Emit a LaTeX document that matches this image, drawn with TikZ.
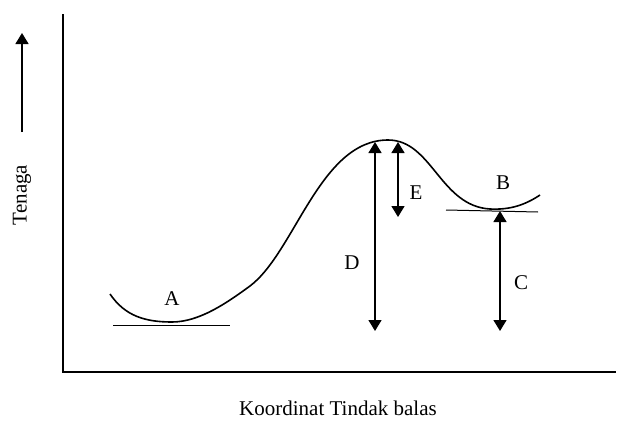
\documentclass[tikz,border=0pt]{standalone}
\usepackage{fontspec}
\setmainfont{Liberation Serif}
\usetikzlibrary{arrows.meta}

\begin{document}
\begin{tikzpicture}[x=1pt, y=-1pt, font=\fontsize{21}{24}\selectfont,
	gap/.style={line width=1.4pt, {Triangle[width=13pt,length=11pt]}-{Triangle[width=13pt,length=11pt]}},
	level/.style={line width=1pt}]
	\useasboundingbox (0,0) rectangle (618,431);
	% Define coordinates
	\coordinate (O) at (63,372);
	\coordinate (Ytop) at (63,14);
	\coordinate (Xend) at (616,372);
	\coordinate (Peak) at (388,140);
	
	% Axes
	\draw[line width=1.6pt] (Ytop) -- (O) -- (Xend);
	\node (ylab) at (22,195) [rotate=90] {Tenaga};
	\coordinate (Ya) at (22,132);
	\coordinate (Yb) at (22,33);
	\draw[line width=1.4pt,-{Triangle[width=13pt,length=11pt]}] (Ya) -- (Yb);
	\node (xlab) at (338,408) {Koordinat Tindak balas};
	
	% Energy curve
	\draw[line width=1.6pt] (110,294) .. controls (125,316) and (145,322) .. (172,322)
		.. controls (200,322) and (228,302) .. (250,286)
		.. controls (295,252) and (320,140) .. (Peak)
		.. controls (432,140) and (440,206) .. (490,209)
		.. controls (510,210) and (525,205) .. (540,195);
	
	% Levels
	\coordinate (A1) at (113,325);
	\coordinate (A2) at (230,325);
	\coordinate (B1) at (446,210);
	\coordinate (B2) at (538,212);
	\draw[level] (A1) -- (A2);
	\draw[level] (B1) -- (B2);
	\node (A) at (172,299) {A};
	\node (B) at (503,183) {B};
	
	% Energy gaps
	\coordinate (Dtop) at (375,142);
	\coordinate (Dbot) at (375,331);
	\coordinate (Etop) at (398,142);
	\coordinate (Ebot) at (398,217);
	\coordinate (Ctop) at (500,211);
	\coordinate (Cbot) at (500,331);
	\draw[gap] (Dtop) -- (Dbot);
	\draw[gap] (Etop) -- (Ebot);
	\draw[gap] (Ctop) -- (Cbot);
	\node (D) at (352,263) {D};
	\node (E) at (416,193) {E};
	\node (C) at (521,283) {C};
\end{tikzpicture}
\end{document}
